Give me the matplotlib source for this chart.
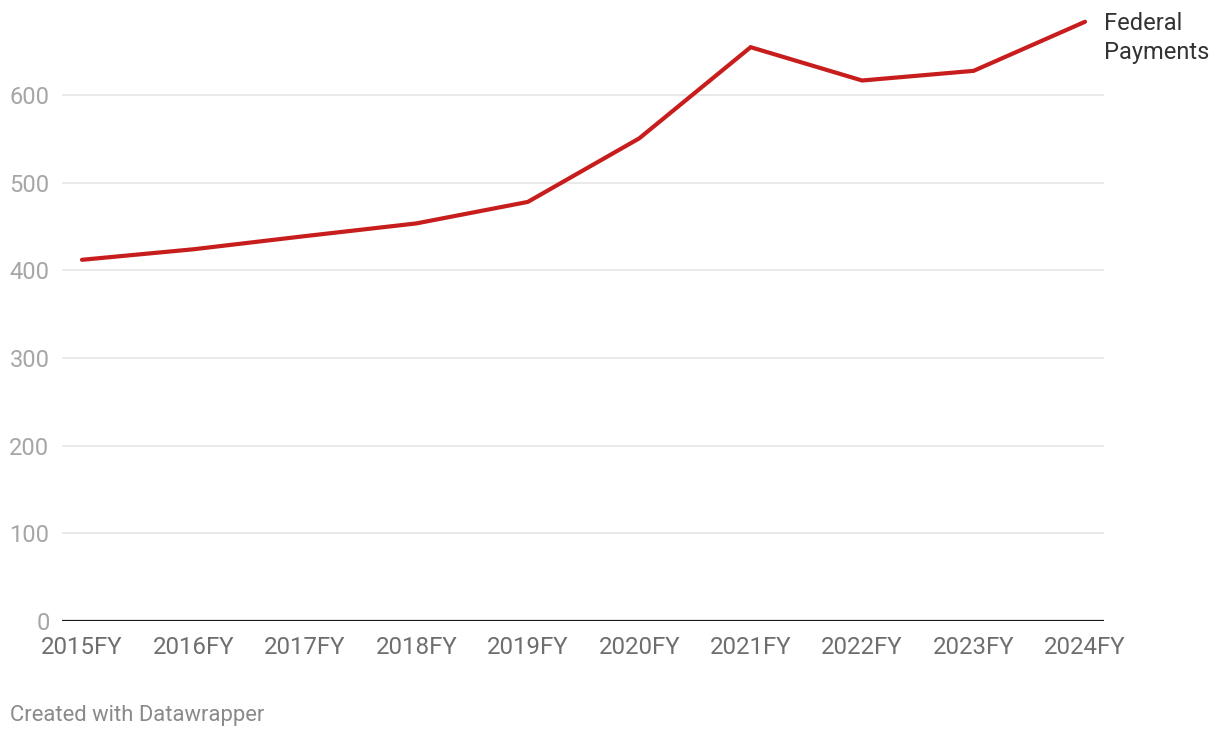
import matplotlib.pyplot as plt

plt.rcParams['font.family'] = ['Roboto', 'DejaVu Sans']

# data
years = ["2015FY", "2016FY", "2017FY", "2018FY", "2019FY",
         "2020FY", "2021FY", "2022FY", "2023FY", "2024FY"]
federal_payments = [412, 424, 439, 453.5, 478, 550.5, 654.5, 616.5, 627.5, 683.5]
y_ticks = [0, 100, 200, 300, 400, 500, 600]
series_label = "Federal\nPayments"

W, H = 1220, 738
fig = plt.figure(figsize=(W / 100, H / 100), dpi=100)

# axes box in pixel coords: x 62..1104, y 7..621
ax = fig.add_axes([62 / W, (H - 621) / H, (1104 - 62) / W, (621 - 7.3) / H])

x = list(range(len(years)))
ax.plot(x, federal_payments, color="#c71e1d", lw=3, solid_capstyle="round",
        solid_joinstyle="miter", zorder=3)

ax.set_ylim(0, 700)
ax.set_xlim(-20 / 111.44, 9 + 19 / 111.44)

ax.set_yticks(y_ticks)
ax.set_yticklabels([str(t) for t in y_ticks], fontsize=17, color="#a6a6a6")
ax.set_xticks(x)
ax.set_xticklabels(years, fontsize=17.3, color="#6e6e6e")
ax.tick_params(axis="y", length=0, pad=9)
ax.tick_params(axis="x", length=0, pad=11)

for t in y_ticks[1:]:
    ax.axhline(t, color="#e3e3e3", lw=1.1, zorder=1)
ax.axhline(0, color="#1a1a1a", lw=1.6, zorder=2)

for s in ax.spines.values():
    s.set_visible(False)

# direct label at the end of the line
ax.annotate(series_label, xy=(x[-1], federal_payments[-1]),
            xytext=(1104 / W, 1 - 38 / H), textcoords="figure fraction",
            ha="left", va="center", fontsize=17, color="#333333",
            linespacing=1.28)

fig.text(10 / W, 1 - 715 / H, "Created with Datawrapper", fontsize=15.8,
         color="#8a8a8a", ha="left", va="center")

fig.savefig("out.png", dpi=100, facecolor="white")
